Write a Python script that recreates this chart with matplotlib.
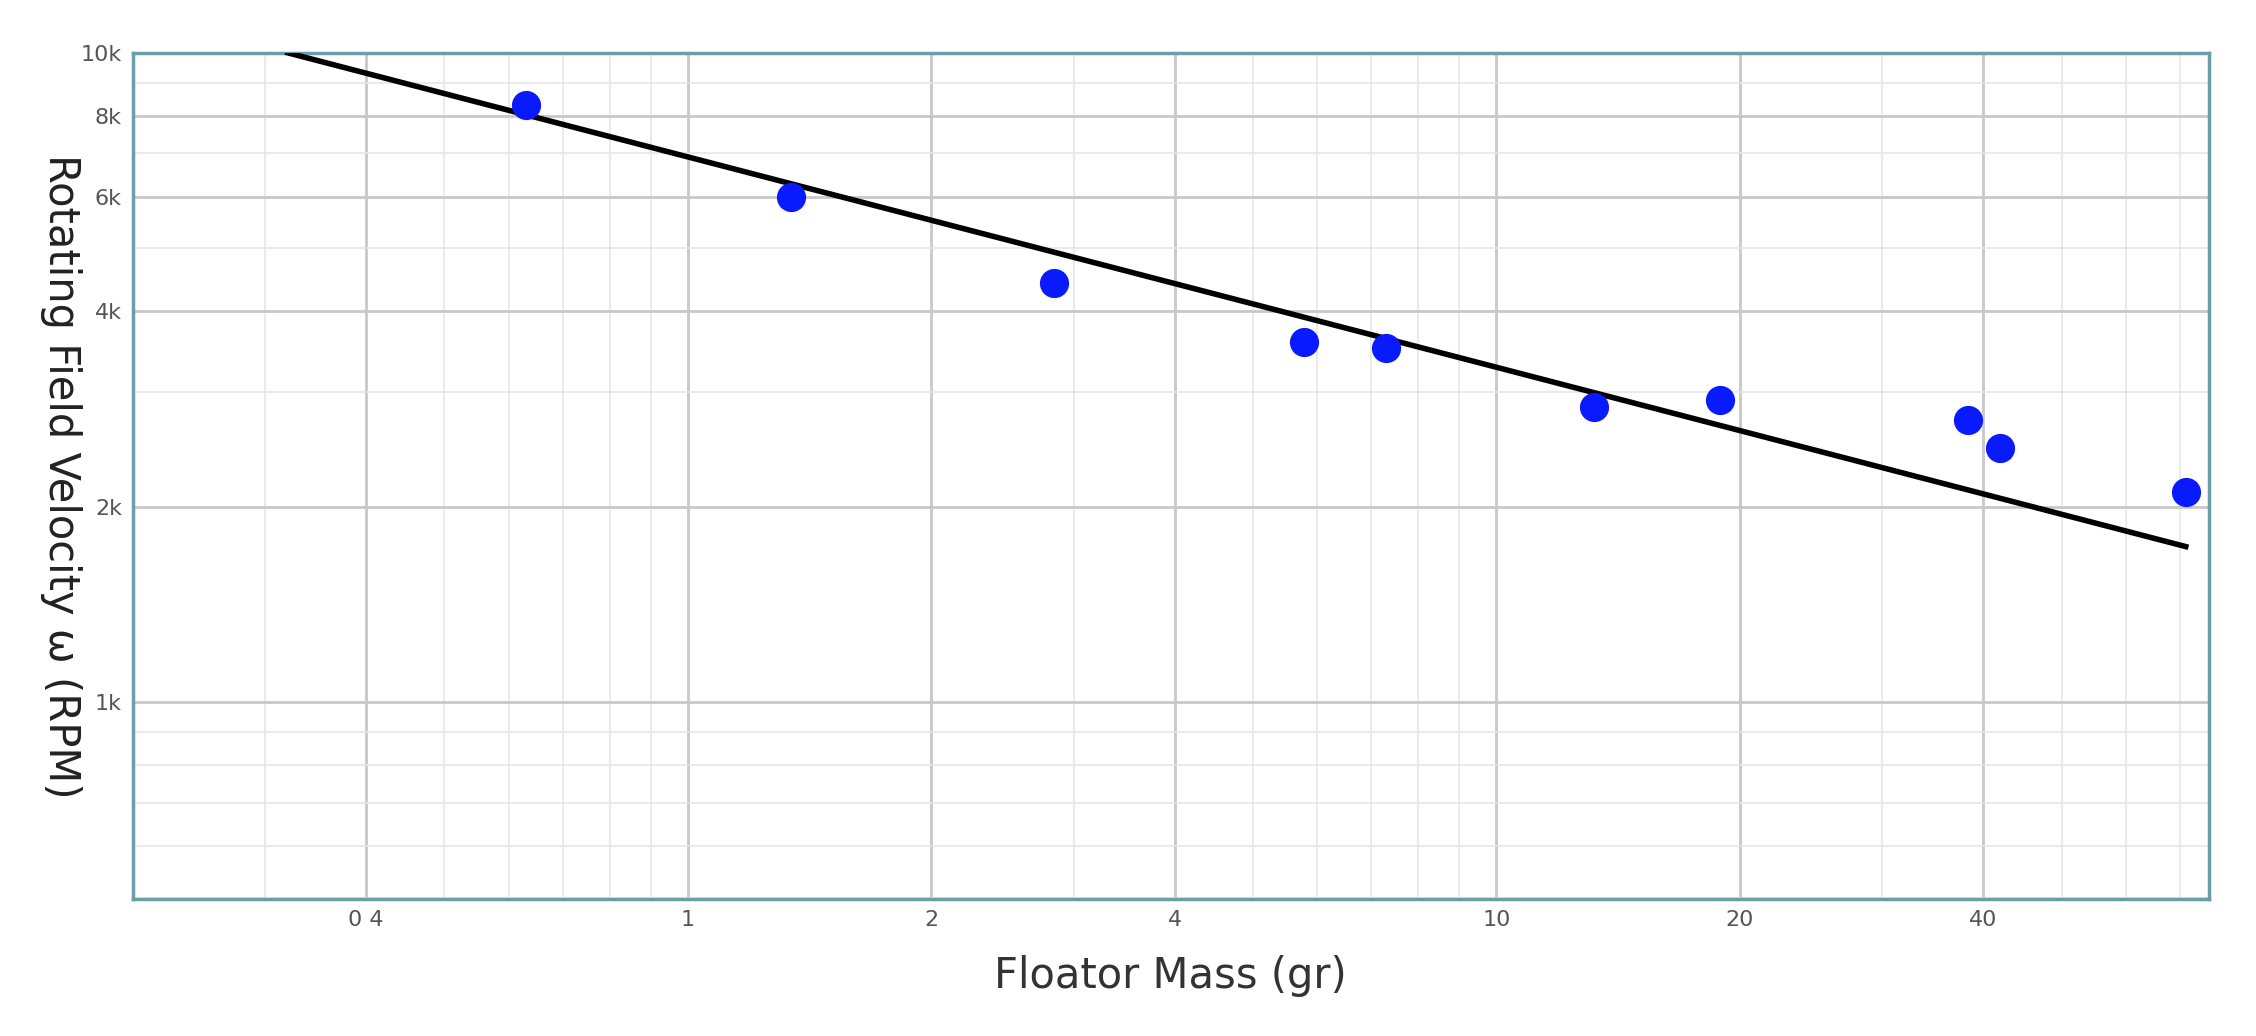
import numpy as np
import matplotlib.pyplot as plt
from matplotlib.ticker import FixedLocator, FixedFormatter, LogLocator, NullFormatter

# measured points
mass = [0.63, 1.34, 2.84, 5.78, 7.3, 13.2, 18.9, 38.3, 42.0, 71.2]
rpm = [8320, 6000, 4420, 3580, 3510, 2850, 2920, 2720, 2460, 2110]

# fit line endpoints
fit_mass = [0.32, 71.2]
fit_rpm = [10000, 1736]

xticks = [0.4, 1, 2, 4, 10, 20, 40]
xlabels = ['0 4', '1', '2', '4', '10', '20', '40']
yticks = [1000, 2000, 4000, 6000, 8000, 10000]
ylabels = ['1k', '2k', '4k', '6k', '8k', '10k']

fig = plt.figure(figsize=(22.56, 10.36), dpi=100)
ax = fig.add_axes([0.059, 0.132, 0.92, 0.817])
ax.set_xscale('log')
ax.set_yscale('log')
ax.set_xlim(0.206, 76)
ax.set_ylim(497, 10000)

ax.xaxis.set_major_locator(FixedLocator(xticks))
ax.xaxis.set_major_formatter(FixedFormatter(xlabels))
ax.xaxis.set_minor_locator(LogLocator(subs=np.arange(2, 10)))
ax.xaxis.set_minor_formatter(NullFormatter())
ax.yaxis.set_major_locator(FixedLocator(yticks))
ax.yaxis.set_major_formatter(FixedFormatter(ylabels))
ax.yaxis.set_minor_locator(LogLocator(subs=np.arange(2, 10)))
ax.yaxis.set_minor_formatter(NullFormatter())

ax.grid(True, which='major', color='#c8c8c8', lw=2)
ax.grid(True, which='minor', color='#e6e6e6', lw=1.2)
ax.tick_params(which='both', length=0, labelsize=16, labelcolor='#555555', pad=8)
for s in ax.spines.values():
    s.set_color('#6a9fa8')
    s.set_linewidth(2.5)

ax.plot(fit_mass, fit_rpm, color='black', lw=4, zorder=3)
ax.plot(mass, rpm, 'o', color='#0a1aff', markersize=20, zorder=4)

ax.set_xlabel('Floator Mass (gr)', fontsize=30, color='#333333', labelpad=18)
ax.set_ylabel('Rotating Field Velocity \u03c9 (RPM)', fontsize=30, color='#222222',
              rotation=-90, labelpad=40, family='DejaVu Sans')
ax.yaxis.set_label_coords(-0.045, 0.5)

fig.savefig('out.png', dpi=100)
